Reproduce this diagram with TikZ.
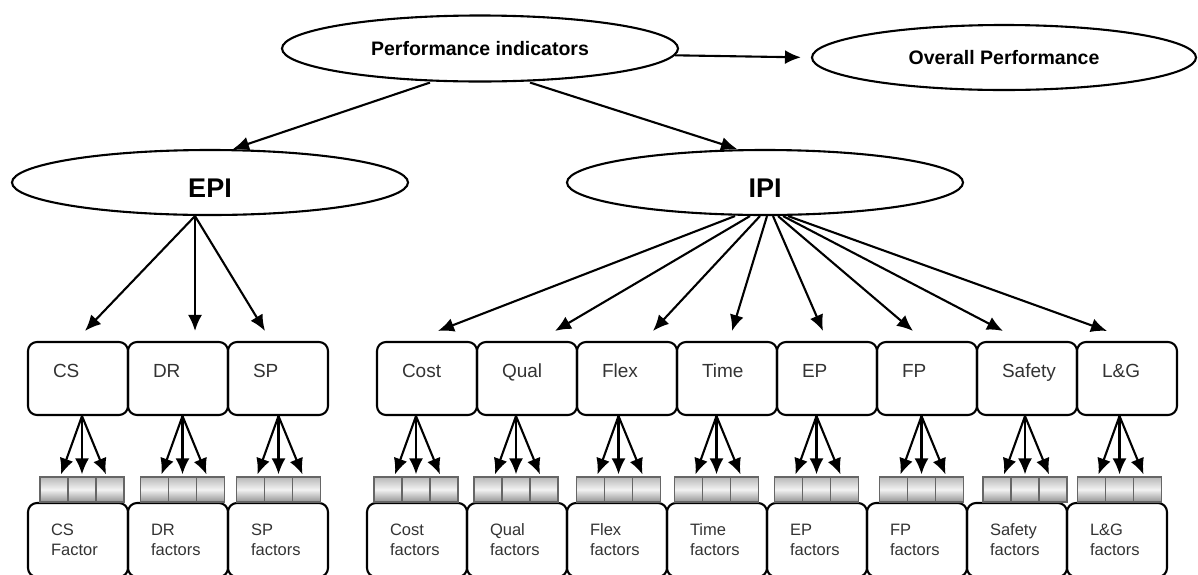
\documentclass[tikz,border=0pt]{standalone}
\usepackage{fontspec}
\setmainfont{Liberation Sans}
\usetikzlibrary{shapes.geometric,arrows.meta,calc}

\begin{document}
\begin{tikzpicture}[x=1pt,y=-1pt,
  line width=2.1pt,
  oval/.style={ellipse, draw, inner sep=0pt, minimum width=396pt, minimum height=66pt},
  ovaltxt/.style={font=\bfseries\fontsize{19.5}{22}\selectfont},
  bigtxt/.style={font=\bfseries\fontsize{27}{30}\selectfont, text height=30pt, text depth=0pt},
  topbox/.style={draw, rounded corners=9pt, minimum width=100pt, minimum height=73pt,
    inner xsep=25pt, inner ysep=0pt, text width=50pt, align=left,
    text height=14pt, text depth=17pt, font=\fontsize{19}{22}\selectfont, text=black!80},
  factbox/.style={draw, rounded corners=9pt, minimum width=100pt, minimum height=74pt,
    inner xsep=23pt, inner ysep=0pt, text width=54pt, align=left,
    font=\fontsize{16.5}{20}\selectfont, text=black!80},
  factstrip/.style={draw=black!60, line width=1.2pt, minimum width=84pt, minimum height=25pt,
    inner sep=0pt, top color=black!28, bottom color=black!42, middle color=black!5,
    path picture={
      \draw[black!60, line width=1.2pt]
        ($(path picture bounding box.north west)!1/3!(path picture bounding box.north east)$) --
        ($(path picture bounding box.south west)!1/3!(path picture bounding box.south east)$)
        ($(path picture bounding box.north west)!2/3!(path picture bounding box.north east)$) --
        ($(path picture bounding box.south west)!2/3!(path picture bounding box.south east)$);
    }},
  arr/.style={-{Latex[length=16pt,width=14pt]}},
  arrsm/.style={-{Latex[length=16pt,width=14pt]}},
]
\useasboundingbox (0,0) rectangle (1198,574);
\clip (0,0) rectangle (1198,574);

% top level ellipses
\node[oval, ovaltxt] (pi) at (480,48.5) {Performance indicators\hspace{34pt}};
\node[oval, ovaltxt, minimum width=384pt, minimum height=65pt] (op) at (1004,57.5) {Overall Performance\hspace{22pt}};
\node[oval, bigtxt, minimum height=65pt] (epi) at (210,182.5) {EPI};
\node[oval, bigtxt, minimum height=65pt] (ipi) at (765,182.5) {IPI};

% indicator boxes
\foreach \n/\x/\t in {cs/78/CS, dr/178/DR, sp/278/SP, cost/427/Cost, qual/527/Qual,
    flex/627/Flex, time/727/Time, ep/827/EP, fp/927/FP, safety/1027/Safety, lg/1127/L\&G}
  \node[topbox] (\n) at (\x,378.5) {\t};

% factor boxes
\foreach \n/\x/\t in {csf/78/CS\\Factor, drf/178/DR\\factors, spf/278/SP\\factors,
    costf/417/Cost\\factors, qualf/517/Qual\\factors, flexf/617/Flex\\factors,
    timef/717/Time\\factors, epf/817/EP\\factors, fpf/917/FP\\factors,
    safetyf/1017/Safety\\factors, lgf/1117/L\&G\\factors}
  \node[factbox] (\n) at (\x,540) {\t};

% factor strips with their arrows
\foreach \n/\x/\b in {css/82/cs, drs/182.5/dr, sps/278.5/sp, costs/416/cost, quals/516/qual,
    flexs/618.5/flex, times/716.5/time, eps/816.5/ep, fps/921.5/fp, safetys/1025/safety, lgs/1119.5/lg}
{
  \node[factstrip] (\n) at (\x,489.5) {};
  \draw[arrsm] (\b.south -| \n.north) -- ([xshift=-21pt,yshift=2pt]\n.north);
  \draw[arrsm] (\b.south -| \n.north) -- ([yshift=2pt]\n.north);
  \draw[arrsm] (\b.south -| \n.north) -- ([xshift=24pt,yshift=2pt]\n.north);
}

% upper connectors
\draw[arr] ([xshift=-50pt]pi.south) -- ([xshift=23pt]epi.north);
\draw[arr] ([xshift=50pt]pi.south) -- ([xshift=-28pt]ipi.north);
\draw[arr, shorten >=10pt] (pi.-2.5) -- (op.west);

\foreach \b/\dx in {cs/7, dr/17, sp/-13}
  \draw[arr] ([xshift=-15pt]epi.south) -- ([xshift=\dx pt,yshift=10pt]\b.north);

\foreach \b/\sx/\dx in {cost/-30/11, qual/-15/28, flex/-5/26, time/2/5,
    ep/8/-4, fp/13/-14, safety/18/-24, lg/23/-20}
  \draw[arr] ([xshift=\sx pt]ipi.south) -- ([xshift=\dx pt,yshift=10pt]\b.north);
\end{tikzpicture}
\end{document}
